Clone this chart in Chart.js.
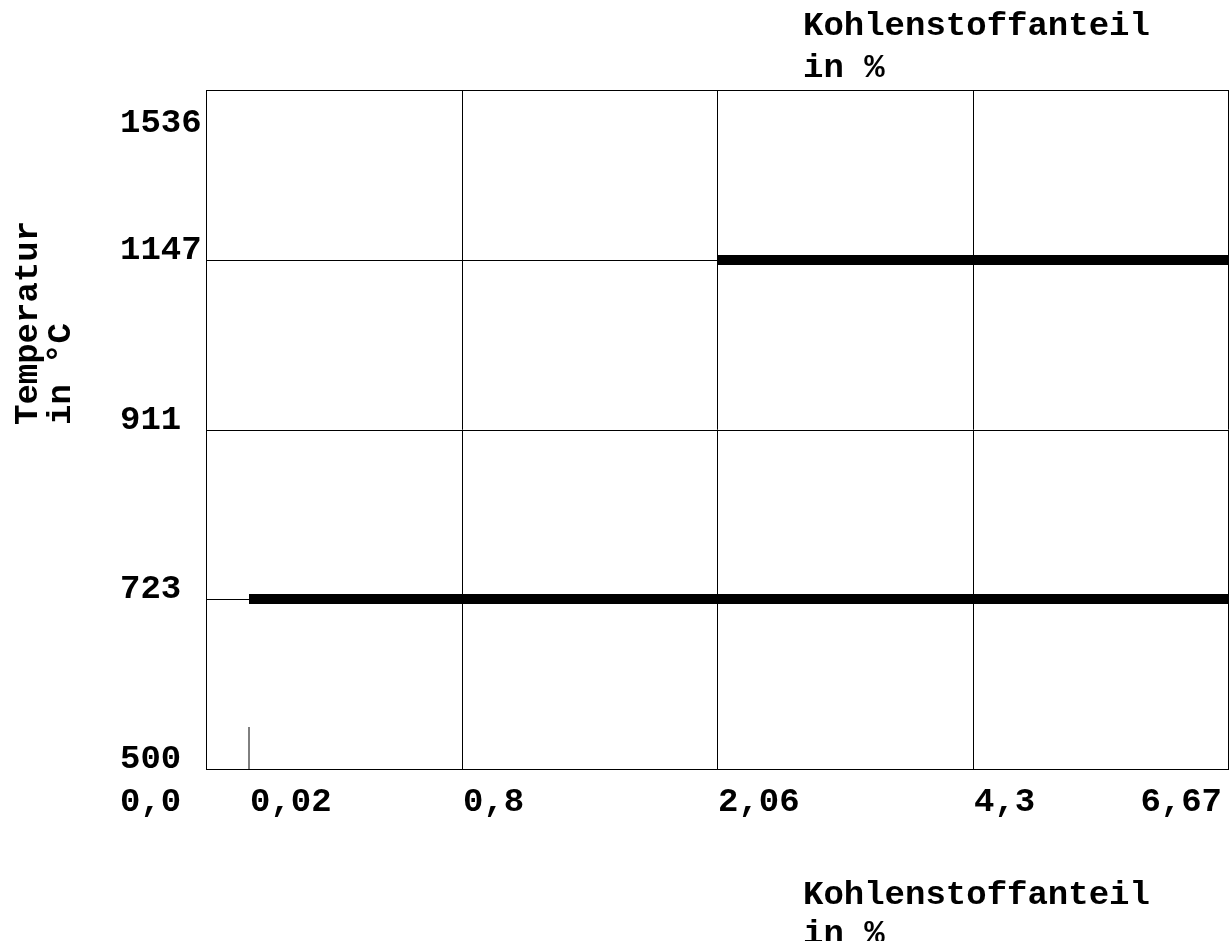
<!DOCTYPE html>
<html>
<head>
<meta charset="utf-8">
<script src="https://cdn.jsdelivr.net/npm/chart.js@4.4.0/dist/chart.umd.min.js"></script>
<style>
  html, body { margin: 0; padding: 0; background: #fff; }
  #wrap { width: 1231px; height: 941px; }
</style>
</head>
<body>
<div id="wrap"><canvas id="chart"></canvas></div>
<script>
// Carbon content (%) ticks and temperature (°C) ticks
const carbonTicks = [0, 0.02, 0.8, 2.06, 4.3, 6.67];
const carbonLabels = ["0,0", "0,02", "0,8", "2,06", "4,3", "6,67"];
const tempTicks = [500, 723, 911, 1147, 1536];
const tempLabels = ["500", "723", "911", "1147", "1536"];

// the axes are schematic: each tick sits in its own slot, not to scale
const carbonSlots = [0, 0.17, 1, 2, 3, 4];
const tempSlots = [0, 1, 2, 3, 4];

// reaction lines of the diagram
const eutectoidLine = [{ c: 0.02, t: 723 }, { c: 6.67, t: 723 }];
const eutecticLine = [{ c: 2.06, t: 1147 }, { c: 6.67, t: 1147 }];
const ferriteMark = [{ c: 0.02, t: 500 }, { c: 0.02, t: 555 }];

const FONT = "bold 34px 'Liberation Mono', 'Courier New', monospace";

// map a real value onto its slot position
function toSlot(v, ticks, slots) {
  for (let i = 0; i < ticks.length - 1; i++) {
    if (v <= ticks[i + 1]) {
      const f = (v - ticks[i]) / (ticks[i + 1] - ticks[i]);
      return slots[i] + f * (slots[i + 1] - slots[i]);
    }
  }
  return slots[slots.length - 1];
}

function toPoints(line) {
  return line.map((p) => ({
    x: toSlot(p.c, carbonTicks, carbonSlots),
    y: toSlot(p.t, tempTicks, tempSlots)
  }));
}

// draws tick labels and axis titles
const labelPlugin = {
  id: "diagramLabels",
  afterDraw(chart) {
    const { ctx, chartArea, scales } = chart;
    ctx.save();
    ctx.fillStyle = "#000";
    ctx.font = FONT;
    ctx.textBaseline = "alphabetic";

    // temperature labels, sitting on their grid line
    ctx.textAlign = "left";
    tempTicks.forEach((t, i) => {
      const y = scales.y.getPixelForValue(toSlot(t, tempTicks, tempSlots));
      const base = i === tempTicks.length - 1 ? y + 42 : y - 1;
      ctx.fillText(tempLabels[i], 120, base);
    });

    // carbon labels below the plot
    const xBase = chartArea.bottom + 42;
    carbonTicks.forEach((c, i) => {
      const x = scales.x.getPixelForValue(toSlot(c, carbonTicks, carbonSlots));
      if (i === 0) {
        ctx.textAlign = "left";
        ctx.fillText(carbonLabels[i], 120, xBase);
      } else if (i === carbonTicks.length - 1) {
        ctx.textAlign = "right";
        ctx.fillText(carbonLabels[i], x - 6, xBase);
      } else {
        ctx.textAlign = "left";
        ctx.fillText(carbonLabels[i], x + 1, xBase);
      }
    });

    // x titles, top and bottom
    ctx.textAlign = "left";
    ctx.fillText("Kohlenstoffanteil", 803, 35);
    ctx.fillText("in %", 803, 77);
    ctx.fillText("Kohlenstoffanteil", 803, 904);
    ctx.fillText("in %", 803, 943);

    // y title, rotated
    ctx.translate(37, 425);
    ctx.rotate(-Math.PI / 2);
    ctx.fillText("Temperatur", 0, 0);
    ctx.fillText("in °C", 0, 33);
    ctx.restore();
  }
};

const lineStyle = {
  showLine: true,
  pointRadius: 0,
  borderColor: "#000",
  borderCapStyle: "butt",
  fill: false
};

new Chart(document.getElementById("chart"), {
  type: "scatter",
  data: {
    datasets: [
      { ...lineStyle, data: toPoints(eutectoidLine), borderWidth: 10 },
      { ...lineStyle, data: toPoints(eutecticLine), borderWidth: 10 },
      { ...lineStyle, data: toPoints(ferriteMark), borderWidth: 1 }
    ]
  },
  options: {
    responsive: true,
    maintainAspectRatio: false,
    animation: false,
    layout: { padding: { left: 206, right: 3, top: 90, bottom: 172 } },
    plugins: { legend: { display: false }, tooltip: { enabled: false } },
    scales: {
      x: {
        type: "linear",
        min: 0,
        max: 4,
        alignToPixels: true,
        ticks: { display: false, stepSize: 1 },
        grid: { color: "#000", lineWidth: 1, drawTicks: false },
        border: { display: true, color: "#000", width: 1 },
        afterFit(scale) { scale.height = 0; }
      },
      y: {
        type: "linear",
        min: 0,
        max: 4,
        alignToPixels: true,
        ticks: { display: false, stepSize: 1 },
        grid: { color: "#000", lineWidth: 1, drawTicks: false },
        border: { display: true, color: "#000", width: 1 },
        afterFit(scale) { scale.width = 0; }
      }
    }
  },
  plugins: [labelPlugin]
});
</script>
</body>
</html>
